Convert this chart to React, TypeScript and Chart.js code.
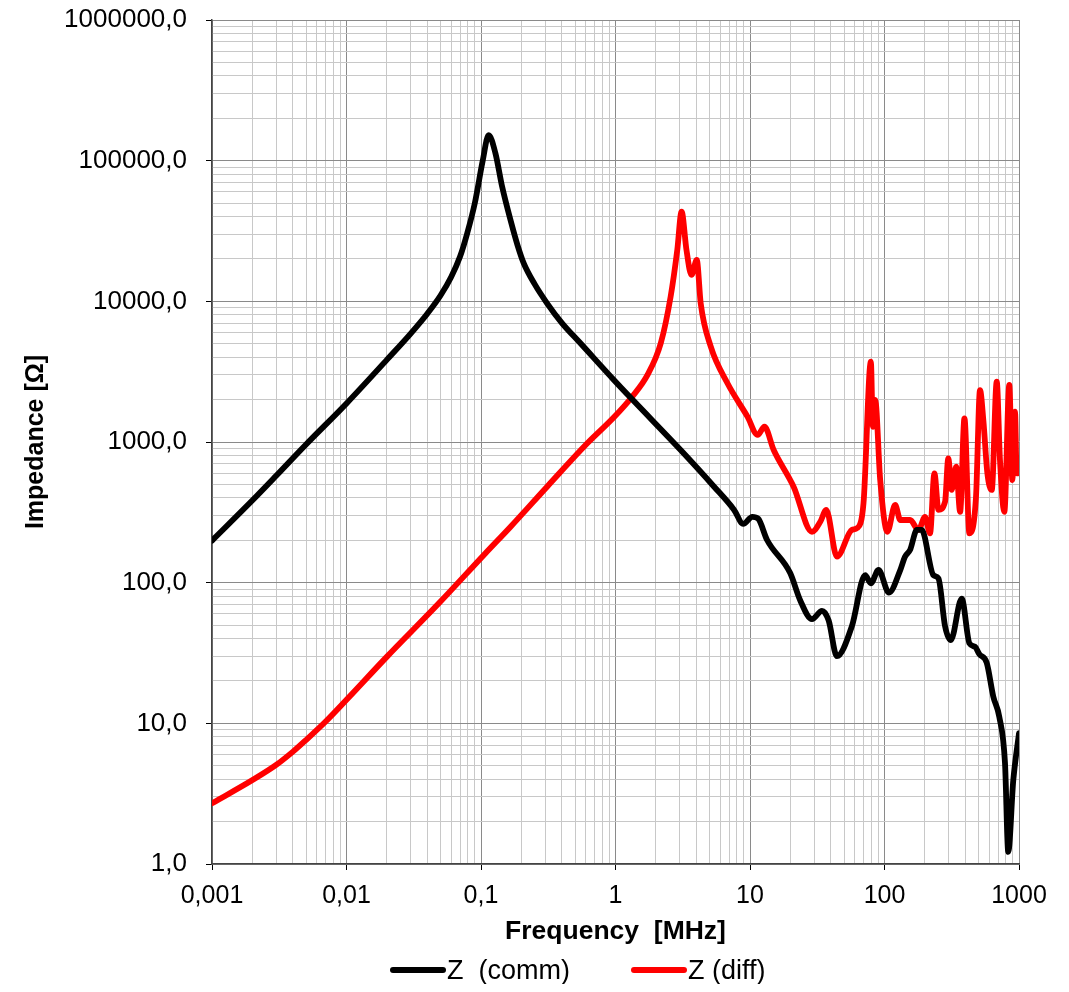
import React, { useEffect, useRef } from 'react';
import { Chart, registerables } from 'chart.js';

Chart.register(...registerables);

// ---- data (frequency in MHz, impedance in Ohm) ----
const commFreq = [
  0.001, 0.002, 0.003, 0.005, 0.01, 0.02, 0.03, 0.04, 0.05, 0.06, 0.07, 0.079, 0.09, 0.103,
  0.114, 0.128, 0.1436, 0.168, 0.187, 0.208, 0.25, 0.31, 0.4, 0.549, 0.973, 1.33, 3.05, 5.41,
  7.62, 8.9, 10.4, 11.5, 13.4, 19.9, 23.6, 28.9, 34.3, 38.4, 44.3, 57.2, 71.8, 79.2, 90.2, 108,
  131, 142, 155, 174, 189, 231, 252, 282, 311, 375, 428, 471, 507, 575, 644, 714, 787, 832,
  907, 1000,
];
const commZ = [
  199, 385, 575, 960, 1880, 3850, 5900, 8200, 11000, 14900, 20900, 30500, 50000, 100000,
  152000, 113000, 65300, 36000, 25000, 18600, 13300, 9680, 7000, 5030, 2760, 2010, 877, 481,
  329, 262, 294, 285, 201, 117, 75, 55, 63, 54, 30, 49, 113, 99, 123, 85,
  123, 153, 171, 237, 237, 113, 107, 49, 39, 77, 37, 35, 31, 27, 15.5, 11.1, 5.2, 1.22,
  3.95, 8.5,
];
const diffFreq = [
  0.001, 0.002, 0.003, 0.004, 0.005, 0.007, 0.01, 0.02, 0.0484, 0.108, 0.166, 0.31, 0.617,
  0.973, 1.33, 1.73, 2.17, 2.57, 2.88, 3.1, 3.37, 3.67, 4.02, 4.3, 5.11, 6.8, 9.58, 11.4, 12.8,
  15.0, 21.1, 28.9, 33.3, 36.9, 44.3, 57.2, 62.4, 69.8, 79.2, 81.9, 85.3, 92.9, 105, 120, 131,
  155, 179, 200, 218, 235, 252, 282, 298, 316, 341, 365, 393, 428, 479, 513, 543, 582, 627,
  683, 722, 778, 847, 892, 934, 961, 1000,
];
const diffZ = [
  2.7, 3.95, 5.06, 6.29, 7.61, 10.3, 14.7, 29.8, 71, 162, 250, 481, 979,
  1500, 2100, 3000, 5030, 10800, 23200, 43400, 23200, 15400, 19700, 9680, 4760, 2615, 1514, 1122, 1284,
  877, 481, 230, 271, 329, 153, 237, 244, 367, 3720, 1284, 1988, 537, 230, 357, 279,
  279, 237, 294, 224, 599, 329, 376, 765, 456, 667, 319, 1473, 224, 408, 2340, 1433, 599, 456,
  2685, 745, 319, 2542, 537, 1642, 599, 600,
];

const seriesNames = ['Z  (comm)', 'Z (diff)'];
const seriesColors = ['#000000', '#ff0000'];

// decade (labelled) tick values
const xDecades = [0.001, 0.01, 0.1, 1, 10, 100, 1000];
const yDecades = [1, 10, 100, 1000, 10000, 100000, 1000000];

const xTitle = 'Frequency  [MHz]';
const yTitle = 'Impedance [Ω]';

const FONT = "'Liberation Sans', Arial, Helvetica, sans-serif";

function fullLogTicks(decades: number[]) {
  const out: { value: number }[] = [];
  for (let i = 0; i < decades.length - 1; i++) {
    for (let k = 1; k <= 9; k++) out.push({ value: parseFloat((k * decades[i]).toPrecision(6)) });
  }
  out.push({ value: decades[decades.length - 1] });
  return out;
}

const isMajor = (v: number) => Math.abs(Math.log10(v) - Math.round(Math.log10(v))) < 1e-6;

export default function App() {
  const canvasRef = useRef<HTMLCanvasElement | null>(null);

  useEffect(() => {
    if (!canvasRef.current) return;
    const mkSet = (i: number, xs: number[], ys: number[]) => ({
      label: seriesNames[i],
      data: xs.map((f, k) => ({ x: f, y: ys[k] })),
      borderColor: seriesColors[i],
      backgroundColor: seriesColors[i],
      borderWidth: 5.8,
      pointRadius: 0,
      cubicInterpolationMode: 'monotone',
      borderJoinStyle: 'round',
      borderCapStyle: 'round',
    });
    const gridOpts = {
      color: (c: any) => (c.tick && isMajor(c.tick.value) ? '#8a8a8a' : '#c8c8c8'),
      tickColor: (c: any) => (c.tick && isMajor(c.tick.value) ? '#000000' : 'rgba(0,0,0,0)'),
      tickLength: 6,
      lineWidth: 1,
    };
    const chart = new Chart(canvasRef.current, {
      type: 'line',
      data: {
        datasets: [mkSet(0, commFreq, commZ), mkSet(1, diffFreq, diffZ)],
      },
      options: {
        animation: false,
        responsive: true,
        maintainAspectRatio: false,
        layout: { padding: { top: 12, right: 42, bottom: 39, left: 0 } },
        plugins: { legend: { display: false }, tooltip: { enabled: false } },
        scales: {
          x: {
            type: 'logarithmic',
            min: xDecades[0],
            max: xDecades[xDecades.length - 1],
            afterBuildTicks: (s: any) => { s.ticks = fullLogTicks(xDecades); },
            afterFit: (s: any) => { s.height = 81; s.paddingRight = 0; s.paddingLeft = 0; },
            grid: gridOpts,
            border: { display: true, color: '#444444', width: 1.5 },
            ticks: {
              autoSkip: false,
              maxRotation: 0,
              padding: 14,
              color: '#000',
              font: { family: FONT, size: 25, lineHeight: 1 },
              callback: (v: any) => (isMajor(Number(v)) ? String(Number(v)).replace('.', ',') : ''),
            },
            title: {
              display: true,
              text: xTitle,
              color: '#000',
              font: { family: FONT, size: 26.5, weight: 'bold', lineHeight: 1 },
              padding: { top: 0, bottom: 0 },
            },
          },
          y: {
            type: 'logarithmic',
            min: yDecades[0],
            max: yDecades[yDecades.length - 1],
            afterBuildTicks: (s: any) => { s.ticks = fullLogTicks(yDecades); },
            afterFit: (s: any) => { s.width = 204; s.paddingTop = 0; s.paddingBottom = 0; },
            grid: gridOpts,
            border: { display: true, color: '#444444', width: 1.5 },
            ticks: {
              autoSkip: false,
              padding: 19,
              color: '#000',
              font: { family: FONT, size: 26, lineHeight: 1 },
              callback: (v: any) => (isMajor(Number(v)) ? Number(v).toFixed(1).replace('.', ',') : ''),
            },
            title: {
              display: true,
              text: yTitle,
              color: '#000',
              font: { family: FONT, size: 25, weight: 'bold', lineHeight: 1 },
              padding: { top: 16, bottom: 0 },
            },
          },
        },
      },
    } as any);
    return () => chart.destroy();
  }, []);

  const legendItem = (i: number) => (
    <div key={i} style={{ display: 'flex', alignItems: 'center' }}>
      <div style={{ width: 56, height: 6, borderRadius: 3, background: seriesColors[i] }} />
      <span style={{ whiteSpace: 'pre', marginLeft: 1 }}>{seriesNames[i]}</span>
    </div>
  );

  return (
    <div style={{ position: 'relative', width: 1053, height: 976 }}>
      <div style={{ position: 'absolute', left: 0, top: 0, width: 1053, height: 976 }}>
        <canvas ref={canvasRef} />
      </div>
      <div
        style={{
          position: 'absolute',
          left: 382,
          top: 948,
          height: 28,
          display: 'flex',
          alignItems: 'center',
          gap: 61,
          fontFamily: FONT,
          fontSize: 27,
          lineHeight: '28px',
          color: '#000',
        }}
      >
        {legendItem(0)}
        {legendItem(1)}
      </div>
    </div>
  );
}
